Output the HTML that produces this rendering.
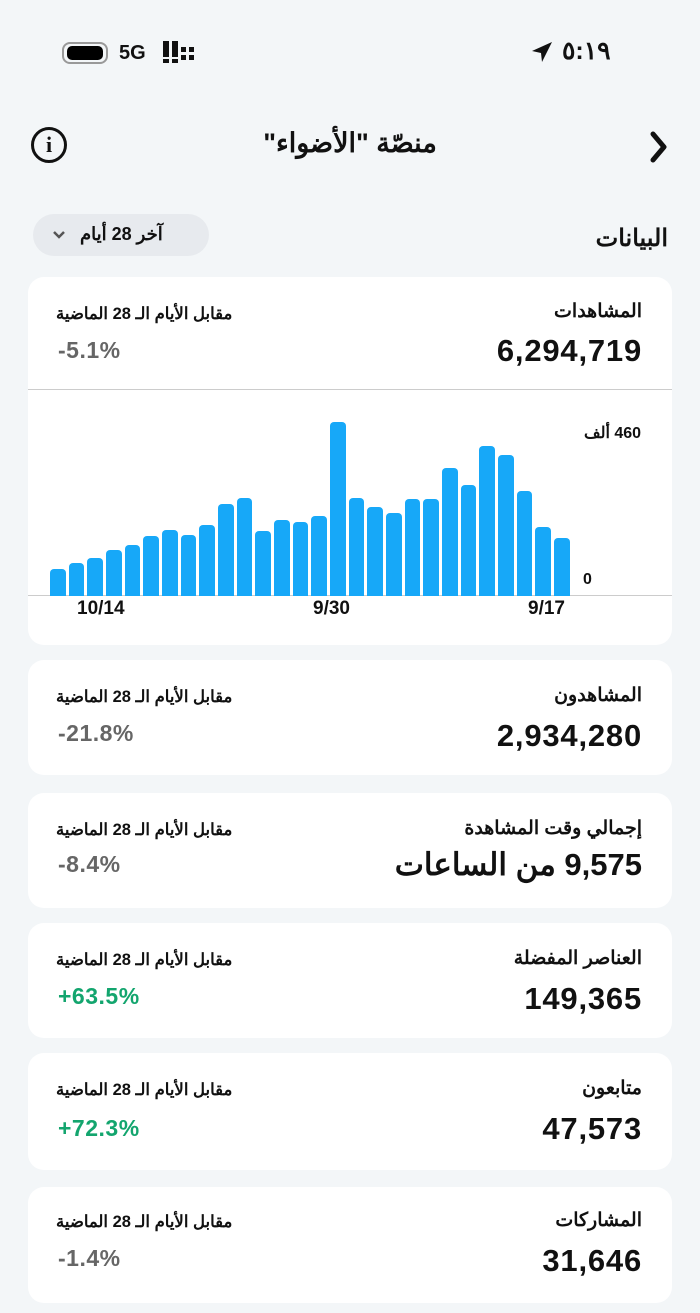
<!DOCTYPE html>
<html><head><meta charset="utf-8">
<style>
*{margin:0;padding:0;box-sizing:border-box}
body{width:700px;height:1313px;background:#f3f6f8;font-family:"Liberation Sans","Noto Sans CJK SC",sans-serif;color:#111;position:relative;overflow:hidden}
.a{position:absolute}
.card{position:absolute;left:28px;width:644px;background:#fff;border-radius:16px}
.lbl{position:absolute;right:30px;font-size:19px;font-weight:bold;direction:rtl}
.val{position:absolute;right:30px;font-size:31px;font-weight:bold;direction:rtl;letter-spacing:0.8px}
.cmp{position:absolute;left:28px;font-size:16.5px;font-weight:bold;direction:rtl}
.pct{position:absolute;left:30px;font-size:23px;font-weight:bold;color:#666;letter-spacing:0.5px}
.g{color:#13a56e}
.bars{position:absolute;left:50px;top:396px;width:520px;height:200px;display:flex;align-items:flex-end;gap:3px}
.bars div{flex:1;background:#17a8f8;border-radius:4px 4px 0 0}
</style></head><body>
<div class="a" style="left:62px;top:42px;width:46px;height:22px;border:2px solid #999;border-radius:8px"></div>
<div class="a" style="left:67px;top:46px;width:36px;height:14px;background:#000;border-radius:5px"></div>
<div class="a" style="left:119px;top:42px;font-size:20px;font-weight:bold">5G</div>
<div class="a" style="left:163px;top:41px;width:6px;height:16px;background:#111"></div>
<div class="a" style="left:172px;top:41px;width:6px;height:16px;background:#111"></div>
<div class="a" style="left:181px;top:47px;width:5px;height:5px;background:#111"></div>
<div class="a" style="left:189px;top:47px;width:5px;height:5px;background:#111"></div>
<div class="a" style="left:181px;top:55px;width:5px;height:5px;background:#111"></div>
<div class="a" style="left:189px;top:55px;width:5px;height:5px;background:#111"></div>
<div class="a" style="left:163px;top:59px;width:6px;height:4px;background:#111"></div>
<div class="a" style="left:172px;top:59px;width:6px;height:4px;background:#111"></div>
<svg class="a" style="left:530px;top:40px" width="24" height="24" viewBox="0 0 24 24"><path d="M22 2 L2 11 L11 13 L12 22 Z" fill="#111"/></svg>
<div class="a" style="left:562px;top:36px;font-size:25px;font-weight:bold">٥:١٩</div>
<div class="a" style="left:31px;top:127px;width:36px;height:36px;border:3.5px solid #111;border-radius:50%;text-align:center;font-size:22px;font-weight:bold;line-height:29px;font-family:'Liberation Serif',serif">i</div>
<div class="a" style="left:0;width:700px;top:128px;text-align:center;font-size:27px;font-weight:bold;direction:rtl">منصّة "الأضواء"</div>
<svg class="a" style="left:648px;top:130px" width="22" height="34" viewBox="0 0 22 34"><path d="M5 4 L16 17 L5 30" stroke="#111" stroke-width="5" fill="none" stroke-linecap="round" stroke-linejoin="round"/></svg>
<div class="a" style="left:33px;top:214px;width:176px;height:42px;background:#e7eaee;border-radius:21px"></div>
<svg class="a" style="left:52px;top:230px" width="14" height="10" viewBox="0 0 14 10"><path d="M2 2 L7 7 L12 2" stroke="#555" stroke-width="2.5" fill="none"/></svg>
<div class="a" style="left:80px;top:224px;font-size:18px;font-weight:bold;direction:rtl">آخر 28 أيام</div>
<div class="a" style="right:32px;top:224px;font-size:24px;font-weight:bold;direction:rtl">البيانات</div>

<div class="card" style="top:277px;height:368px">
 <div class="lbl" style="top:23px">المشاهدات</div>
 <div class="val" style="top:56px">6,294,719</div>
 <div class="cmp" style="top:27px">مقابل الأيام الـ 28 الماضية</div>
 <div class="pct" style="top:60px">-5.1%</div>
 <div class="a" style="left:0;top:112px;width:644px;height:1px;background:#ccc"></div>
 <div class="a" style="left:0;top:318px;width:644px;height:1px;background:#ccc"></div>
 <div class="a" style="left:556px;top:146px;font-size:16px;font-weight:bold;direction:rtl">460 ألف</div>
 <div class="a" style="left:555px;top:294px;font-size:16px;font-weight:bold">0</div>
 <div class="a" style="left:49px;top:321px;font-size:19px;font-weight:bold">10/14</div>
 <div class="a" style="left:285px;top:321px;font-size:19px;font-weight:bold">9/30</div>
 <div class="a" style="left:500px;top:321px;font-size:19px;font-weight:bold">9/17</div>
</div>
<div class="bars">
<div style="height:27px"></div><div style="height:33px"></div><div style="height:38px"></div><div style="height:46px"></div><div style="height:51px"></div><div style="height:60px"></div><div style="height:66px"></div><div style="height:61px"></div><div style="height:71px"></div><div style="height:92px"></div><div style="height:98px"></div><div style="height:65px"></div><div style="height:76px"></div><div style="height:74px"></div><div style="height:80px"></div><div style="height:174px"></div><div style="height:98px"></div><div style="height:89px"></div><div style="height:83px"></div><div style="height:97px"></div><div style="height:97px"></div><div style="height:128px"></div><div style="height:111px"></div><div style="height:150px"></div><div style="height:141px"></div><div style="height:105px"></div><div style="height:69px"></div><div style="height:58px"></div>
</div>

<div class="card" style="top:660px;height:115px">
 <div class="lbl" style="top:24px">المشاهدون</div>
 <div class="val" style="top:58px">2,934,280</div>
 <div class="cmp" style="top:27px">مقابل الأيام الـ 28 الماضية</div>
 <div class="pct" style="top:60px">-21.8%</div>
</div>
<div class="card" style="top:793px;height:115px">
 <div class="lbl" style="top:24px">إجمالي وقت المشاهدة</div>
 <div class="val" style="top:54px">9,575 من الساعات</div>
 <div class="cmp" style="top:27px">مقابل الأيام الـ 28 الماضية</div>
 <div class="pct" style="top:58px">-8.4%</div>
</div>
<div class="card" style="top:923px;height:115px">
 <div class="lbl" style="top:24px">العناصر المفضلة</div>
 <div class="val" style="top:58px">149,365</div>
 <div class="cmp" style="top:27px">مقابل الأيام الـ 28 الماضية</div>
 <div class="pct g" style="top:60px">+63.5%</div>
</div>
<div class="card" style="top:1053px;height:117px">
 <div class="lbl" style="top:24px">متابعون</div>
 <div class="val" style="top:58px">47,573</div>
 <div class="cmp" style="top:27px">مقابل الأيام الـ 28 الماضية</div>
 <div class="pct g" style="top:62px">+72.3%</div>
</div>
<div class="card" style="top:1187px;height:116px">
 <div class="lbl" style="top:22px">المشاركات</div>
 <div class="val" style="top:56px">31,646</div>
 <div class="cmp" style="top:25px">مقابل الأيام الـ 28 الماضية</div>
 <div class="pct" style="top:58px">-1.4%</div>
</div>
</body></html>
